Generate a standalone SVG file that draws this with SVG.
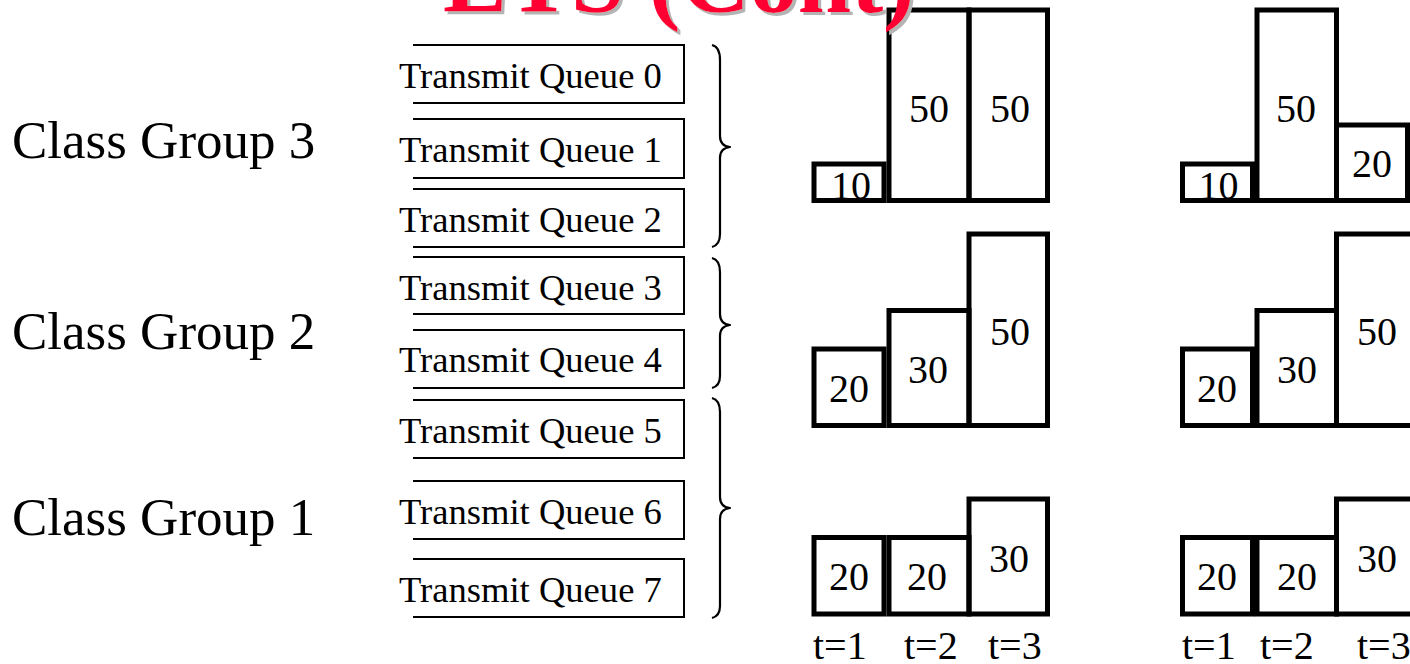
<svg xmlns="http://www.w3.org/2000/svg" width="1410" height="664" viewBox="0 0 1410 664">
<defs>
<filter id="shadow" x="-5%" y="-20%" width="110%" height="150%">
<feOffset in="SourceAlpha" dx="3" dy="3" result="off"/>
<feFlood flood-color="#b4b4b4"/>
<feComposite in2="off" operator="in" result="sh"/>
<feMerge><feMergeNode in="sh"/><feMergeNode in="SourceGraphic"/></feMerge>
</filter>
</defs>
<style>
.q{fill:none;stroke:#000;stroke-width:2}
.qt{font-family:"Liberation Serif","Times New Roman",serif;font-size:36.6px;fill:#000}
.cg{font-family:"Liberation Serif","Times New Roman",serif;font-size:53px;fill:#000}
.br{fill:none;stroke:#000;stroke-width:2.2;stroke-linejoin:round}
.bar{fill:#fff;stroke:none}
.bo{fill:none;stroke:#000;stroke-width:5}
.n{font-family:"Liberation Serif","Times New Roman",serif;font-size:40px;fill:#000;text-anchor:middle}
.t{font-family:"Liberation Serif","Times New Roman",serif;font-size:40px;fill:#000}
.ti{font-family:"Liberation Serif","Times New Roman",serif;font-size:96px;font-weight:bold;fill:#ff0033}
</style>
<rect width="1410" height="664" fill="#fff"/>

<g id="class-groups">
<text class="cg" x="12" y="158">Class Group 3</text>
<text class="cg" x="12" y="349">Class Group 2</text>
<text class="cg" x="12" y="535">Class Group 1</text>
</g>

<g id="queue0"><path class="q" d="M413,45 H684 V103 H413"/><text class="qt" x="399" y="88">Transmit Queue 0</text></g>
<g id="queue1"><path class="q" d="M413,119 H684 V178 H413"/><text class="qt" x="399" y="162">Transmit Queue 1</text></g>
<g id="queue2"><path class="q" d="M413,189 H684 V247 H413"/><text class="qt" x="399" y="232">Transmit Queue 2</text></g>
<g id="queue3"><path class="q" d="M413,257 H684 V314 H413"/><text class="qt" x="399" y="300">Transmit Queue 3</text></g>
<g id="queue4"><path class="q" d="M413,330 H684 V388 H413"/><text class="qt" x="399" y="372">Transmit Queue 4</text></g>
<g id="queue5"><path class="q" d="M413,400 H684 V458 H413"/><text class="qt" x="399" y="443">Transmit Queue 5</text></g>
<g id="queue6"><path class="q" d="M413,481 H684 V539 H413"/><text class="qt" x="399" y="524">Transmit Queue 6</text></g>
<g id="queue7"><path class="q" d="M413,559 H684 V617 H413"/><text class="qt" x="399" y="602">Transmit Queue 7</text></g>

<g id="connectors">
<path class="br" d="M712,45 Q720,47 720,60 L720,136 Q720,146 730,147 Q720,148 720,158 L720,234 Q720,245 712,247"/>
<path class="br" d="M712,258 Q720,260 720,272 L720,314 Q720,324 730,325 Q720,326 720,336 L720,376 Q720,386 712,388"/>
<path class="br" d="M712,398 Q720,400 720,412 L720,497 Q720,507 730,508 Q720,509 720,519 L720,606 Q720,616 712,618"/>
</g>

<g id="chart-left">
<g id="L1">
<rect class="bar" x="814" y="164" width="70" height="36.5"/>
<rect class="bar" x="889" y="10" width="80" height="190.5"/>
<rect class="bar" x="969" y="10" width="78.5" height="190.5"/>
<text class="n" x="851" y="199">10</text>
<text class="n" x="929" y="122">50</text>
<text class="n" x="1010" y="122">50</text>
<rect class="bo" x="814" y="164" width="70" height="36.5"/>
<rect class="bo" x="889" y="10" width="80" height="190.5"/>
<rect class="bo" x="969" y="10" width="78.5" height="190.5"/>
</g>
<g id="L2">
<rect class="bo" x="814" y="349" width="70" height="76.5"/>
<rect class="bo" x="889" y="310.5" width="80" height="115"/>
<rect class="bo" x="969" y="234" width="78.5" height="191.5"/>
<text class="n" x="849" y="402">20</text>
<text class="n" x="928" y="383">30</text>
<text class="n" x="1010" y="345">50</text>
</g>
<g id="L3">
<rect class="bo" x="814" y="537.5" width="70" height="76.5"/>
<rect class="bo" x="889" y="537.5" width="80" height="76.5"/>
<rect class="bo" x="969" y="499" width="78.5" height="115"/>
<text class="n" x="849" y="590">20</text>
<text class="n" x="927" y="590">20</text>
<text class="n" x="1009" y="572">30</text>
</g>
<g id="L-time">
<text class="t" x="813" y="659">t=1</text>
<text class="t" x="904" y="659">t=2</text>
<text class="t" x="988" y="659">t=3</text>
</g>
</g>

<g id="chart-right">
<g id="R1">
<rect class="bar" x="1182.5" y="164" width="70" height="36.5"/>
<text class="n" x="1218.5" y="199">10</text>
<rect class="bo" x="1182.5" y="164" width="70" height="36.5"/>
<rect class="bo" x="1257" y="10" width="79.5" height="190.5"/>
<rect class="bo" x="1336.5" y="125" width="71" height="75.5"/>
<text class="n" x="1296" y="122">50</text>
<text class="n" x="1372" y="177">20</text>
</g>
<g id="R2">
<rect class="bo" x="1182.5" y="349" width="70" height="76.5"/>
<rect class="bo" x="1257" y="310.5" width="79.5" height="115"/>
<rect class="bo" x="1336.5" y="234" width="90" height="191.5"/>
<text class="n" x="1217" y="402">20</text>
<text class="n" x="1297" y="383">30</text>
<text class="n" x="1377" y="345">50</text>
</g>
<g id="R3">
<rect class="bo" x="1182.5" y="537.5" width="70" height="76.5"/>
<rect class="bo" x="1257" y="537.5" width="79.5" height="76.5"/>
<rect class="bo" x="1336.5" y="499" width="90" height="115"/>
<text class="n" x="1217" y="590">20</text>
<text class="n" x="1297" y="590">20</text>
<text class="n" x="1377" y="572">30</text>
</g>
<g id="R-time">
<text class="t" x="1182" y="659">t=1</text>
<text class="t" x="1260" y="659">t=2</text>
<text class="t" x="1357" y="659">t=3</text>
</g>
</g>

<g id="title">
<text class="ti" x="443" y="12" filter="url(#shadow)">ETS (Cont)</text>
</g>
</svg>
